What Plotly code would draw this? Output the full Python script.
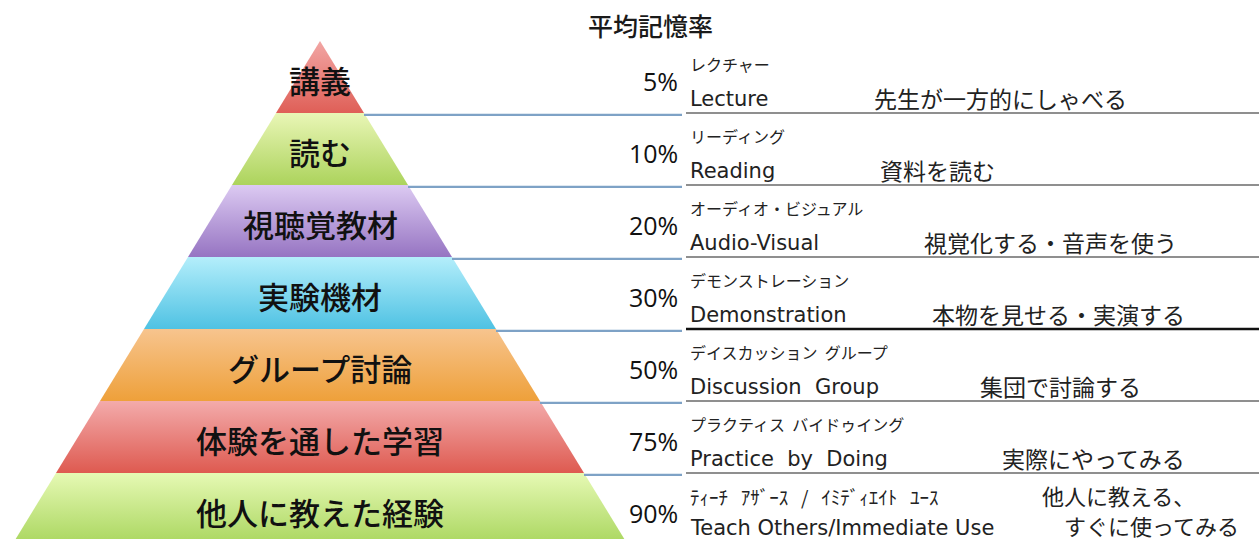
import plotly.graph_objects as go

# ---------------- data ----------------
levels = ["講義", "読む", "視聴覚教材", "実験機材", "グループ討論", "体験を通した学習", "他人に教えた経験"]
retention = [5, 10, 20, 30, 50, 75, 90]
katakana = ["レクチャー", "リーディング", "オーディオ・ビジュアル", "デモンストレーション",
            "デイスカッション  グループ", "プラクティス  バイドゥイング",
            "ﾃｨｰﾁ   ｱｻﾞｰｽ   /   ｲﾐﾃﾞｨｴｲﾄ   ﾕｰｽ"]
english = ["Lecture", "Reading", "Audio-Visual", "Demonstration",
           "Discussion  Group", "Practice  by  Doing", "Teach Others/Immediate Use"]
description = ["先生が一方的にしゃべる", "資料を読む", "視覚化する・音声を使う", "本物を見せる・実演する",
               "集団で討論する", "実際にやってみる", "他人に教える、<br>すぐに使ってみる"]
title_text = "平均記憶率"

# ---------------- styles / layout ----------------
top_colors = ["#f2a6a4", "#e9f6b6", "#dccaf2", "#b4eefb", "#f7c48e", "#f3abab", "#e6f9b4"]
bot_colors = ["#df5f57", "#acd35c", "#9674c2", "#4fc2e3", "#eea03a", "#de5a50", "#a9d65e"]
CX = 320          # pyramid centre (x axis units)
HW = 44           # half width growth per level
PANEL_X = 682     # end of blue leader lines / right edge of percentages
TEXT_X = 688
desc_x = [872, 878, 922, 930, 978, 1000, 1040]
JP = "Noto Sans CJK JP"

fig = go.Figure()

n = len(levels)
for i in range(n):
    y0, y1 = i, i + 1
    xs = [CX - HW * y0, CX + HW * y0, CX + HW * y1, CX - HW * y1, CX - HW * y0]
    ys = [y0, y0, y1, y1, y0]
    fig.add_trace(go.Scatter(
        x=xs, y=ys, mode="lines", fill="toself",
        line=dict(width=0, color="rgba(0,0,0,0)"),
        fillgradient=dict(type="vertical", start=y0, stop=y1,
                          colorscale=[[0, top_colors[i]], [1, bot_colors[i]]]),
        hoverinfo="skip", showlegend=False))

# leader lines (blue) and separator lines (dark)
for i in range(1, n):
    fig.add_trace(go.Scatter(
        x=[CX + HW * i, PANEL_X], y=[i + 0.025, i + 0.025], mode="lines",
        line=dict(color="#7ea2c6", width=2.2), hoverinfo="skip", showlegend=False))
    fig.add_trace(go.Scatter(
        x=[TEXT_X - 2, 1259], y=[i, i], mode="lines",
        line=dict(color="#111111" if i == 4 else "#6a6a6a", width=2.6 if i == 4 else 1.6),
        hoverinfo="skip", showlegend=False))

ann = []
ann.append(dict(x=650, y=-0.22, text=title_text, showarrow=False,
                font=dict(family=JP, size=25, color="#1a1a1a", weight=500),
                xanchor="center", yanchor="middle"))
for i in range(n):
    ann.append(dict(x=CX, y=i + 0.53, text=levels[i], showarrow=False,
                    font=dict(family=JP, size=31, color="#111111", weight=500),
                    xanchor="center", yanchor="middle"))
    ann.append(dict(x=PANEL_X - 2, y=i + 0.55, text=f"{retention[i]}%", showarrow=False,
                    font=dict(family="Open Sans", size=25, color="#111111"),
                    xanchor="right", yanchor="middle"))
    kat_size = 19 if i == n - 1 else 16
    ann.append(dict(x=TEXT_X, y=i + 0.32, text=katakana[i], showarrow=False,
                    font=dict(family=JP, size=kat_size, color="#222222"),
                    xanchor="left", yanchor="middle"))
    eng_y = i + 0.76 if i == n - 1 else i + 0.81
    ann.append(dict(x=TEXT_X, y=eng_y, text=english[i], showarrow=False,
                    font=dict(family="DejaVu Sans", size=21, color="#222222"),
                    xanchor="left", yanchor="middle"))
    lines = description[i].split("<br>")
    if len(lines) == 1:
        ann.append(dict(x=desc_x[i], y=i + 0.79, text=lines[0], showarrow=False,
                        font=dict(family=JP, size=23, color="#222222"),
                        xanchor="left", yanchor="middle"))
    else:
        for k, line in enumerate(lines):
            ann.append(dict(x=desc_x[i] + 22 * k, y=i + 0.30 + 0.42 * k, text=line,
                            showarrow=False,
                            font=dict(family=JP, size=22, color="#222222"),
                            xanchor="left", yanchor="middle"))

fig.update_layout(
    width=1259, height=539,
    margin=dict(l=0, r=0, t=0, b=0),
    paper_bgcolor="white", plot_bgcolor="white",
    xaxis=dict(range=[0, 1259], visible=False, fixedrange=True),
    yaxis=dict(range=[498 / 72, -41 / 72], visible=False, fixedrange=True),
    annotations=ann,
    showlegend=False,
)

fig.write_html("out.html")
